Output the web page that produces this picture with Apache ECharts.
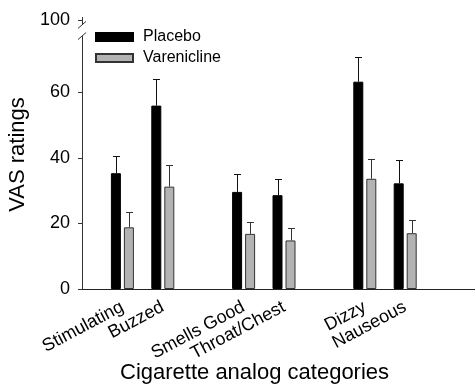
<!DOCTYPE html>
<html><head><meta charset="utf-8">
<script src="https://cdn.jsdelivr.net/npm/echarts@6/dist/echarts.min.js"></script>
<style>html,body{margin:0;padding:0;background:#fff}#c{width:475px;height:387px}</style>
</head><body><div id="c"></div>
<script>
// ---- data ----
const categories = ['', 'Stimulating', 'Buzzed', '', 'Smells Good', 'Throat/Chest', '', 'Dizzy', 'Nauseous', '', ''];
const placebo        = [null, 35.3, 55.9, null, 29.6, 28.6, null, 63.2, 32.2, null, null];
const placeboErr     = [null, 5.2, 8.0, null, 5.4, 4.8, null, 7.4, 7.1, null, null];
const varenicline    = [null, 18.8, 31.2, null, 16.8, 14.8, null, 33.6, 17.0, null, null];
const vareniclineErr = [null, 4.8, 6.7, null, 3.6, 3.7, null, 5.9, 4.1, null, null];
const yTickValues = [0, 20, 40, 60];
const yTickLabels = ['0', '20', '40', '60'];
const yBrokenTopLabel = '100';
// the broken axis: "100" is drawn at this axis position, the axis line breaks between these values
const yBrokenTopPos = 82;
const yBreakLower = 77.1;
const yBreakUpper = 80.5;
const yAxisTop = 82.9;

const FONT = 'Liberation Sans, Arial, Helvetica, sans-serif';
const BAR_W = 10, BAR_GAP_PX = 3;
const OFF = (BAR_W + BAR_GAP_PX) / 2;

function errData(vals, errs) {
  const out = [];
  vals.forEach((v, i) => { if (v != null) out.push([i, v, errs[i]]); });
  return out;
}
function errRender(offset, color) {
  return function (params, api) {
    const i = api.value(0), v = api.value(1), e = api.value(2);
    const b = api.coord([i, v]), t = api.coord([i, v + e]);
    const x = Math.round(b[0] + offset) + 0.5;
    const yt = Math.round(t[1]) + 0.5;
    return { type: 'group', children: [
      { type: 'line', shape: { x1: x, y1: b[1], x2: x, y2: yt }, style: { stroke: color, lineWidth: 1 } },
      { type: 'line', shape: { x1: x - 3.5, y1: yt, x2: x + 3.5, y2: yt }, style: { stroke: color, lineWidth: 1 } }
    ]};
  };
}

const chart = echarts.init(document.getElementById('c'), null, { renderer: 'canvas' });
const tickVals = yTickValues.concat([yBrokenTopPos]);
const option = {
  animation: false,
  backgroundColor: '#fff',
  textStyle: { fontFamily: FONT },
  title: {
    text: 'Cigarette analog categories', left: 120, top: 362, padding: 0,
    textStyle: { fontFamily: FONT, fontSize: 22, fontWeight: 'normal', color: '#000' }
  },
  legend: {
    data: ['Placebo', 'Varenicline'], orient: 'vertical', left: 95, top: 29, padding: 0,
    itemWidth: 37, itemHeight: 8, itemGap: 5, icon: 'rect',
    textStyle: { fontFamily: FONT, fontSize: 16, color: '#000', padding: [0, 0, 0, 5] }
  },
  grid: { left: 82, right: -11, top: 20, bottom: 98, outerBoundsMode: 'none', containLabel: false },
  xAxis: {
    type: 'category', data: categories, boundaryGap: false,
    axisLine: { show: true, lineStyle: { color: '#222', width: 1 } },
    axisTick: { show: false },
    axisLabel: { interval: 0, rotate: 28, margin: 17, fontSize: 18, fontFamily: FONT, color: '#000' },
    splitLine: { show: false }
  },
  yAxis: {
    type: 'value', min: 0, max: yBrokenTopPos,
    name: 'VAS ratings', nameLocation: 'middle', nameGap: 51,
    nameTextStyle: { fontFamily: FONT, fontSize: 22, color: '#000' },
    axisLine: { show: false },
    axisTick: { show: true, length: 4, customValues: tickVals, lineStyle: { color: '#333' } },
    axisLabel: {
      customValues: tickVals, margin: 12, fontSize: 18, fontFamily: FONT, color: '#000',
      formatter: function (v) {
        if (v === yBrokenTopPos) return yBrokenTopLabel;
        const k = yTickValues.indexOf(v);
        return k >= 0 ? yTickLabels[k] : '';
      }
    },
    splitLine: { show: false }
  },
  series: [
    { name: 'Placebo', type: 'bar', data: placebo, barWidth: BAR_W, barGap: (BAR_GAP_PX / BAR_W * 100) + '%',
      itemStyle: { color: '#000', borderColor: '#000', borderWidth: 1 } },
    { name: 'Varenicline', type: 'bar', data: varenicline, barWidth: BAR_W,
      itemStyle: { color: '#b3b3b3', borderColor: '#333', borderWidth: 1 } },
    { name: 'errP', type: 'custom', renderItem: errRender(-OFF, '#111'), data: errData(placebo, placeboErr), z: 3 },
    { name: 'errV', type: 'custom', renderItem: errRender(OFF, '#333'), data: errData(varenicline, vareniclineErr), z: 3 }
  ]
};
chart.setOption(option);

// broken y-axis line drawn from axis scale
function drawBreak() {
  const p = (v) => chart.convertToPixel({ xAxisIndex: 0, yAxisIndex: 0 }, [0, v]);
  const X = Math.round(p(0)[0]) + 0.5;
  const y0 = p(0)[1], yL = p(yBreakLower)[1], yU = p(yBreakUpper)[1], yT = p(yAxisTop)[1];
  const st = { stroke: '#333', lineWidth: 1 };
  chart.setOption({ graphic: [
    { type: 'line', shape: { x1: X, y1: y0, x2: X, y2: yL }, style: st, z: 10 },
    { type: 'line', shape: { x1: X, y1: yU, x2: X, y2: yT }, style: st, z: 10 },
    { type: 'line', shape: { x1: X - 4.5, y1: yL + 3.5, x2: X + 3.5, y2: yL - 3.5 }, style: st, z: 10 },
    { type: 'line', shape: { x1: X - 4.5, y1: yU + 3.5, x2: X + 3.5, y2: yU - 3.5 }, style: st, z: 10 }
  ]});
}
drawBreak();
</script>
</body></html>
